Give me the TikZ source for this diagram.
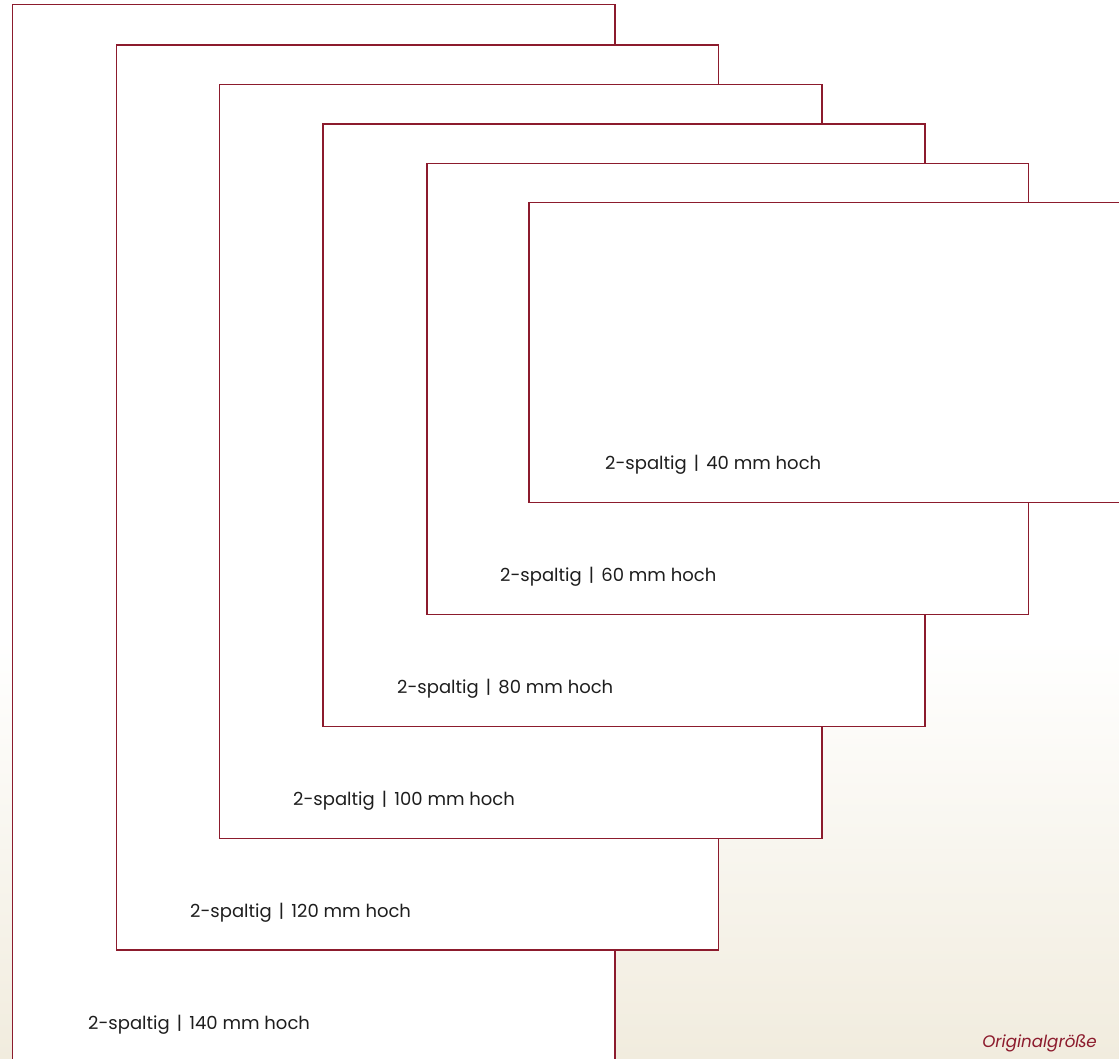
\documentclass[tikz,border=0pt]{standalone}
\usepackage{fontspec}
\setmainfont{Poppins}
\definecolor{frame}{RGB}{140,27,45}
\definecolor{beige}{RGB}{241,236,222}
\definecolor{txt}{RGB}{30,30,30}
\newcommand{\sep}{\hspace{0.4em}|\hspace{0.4em}}
\begin{document}
\begin{tikzpicture}[x=1pt,y=-1pt,
  formatbox/.style={draw=frame, line width=1.4pt, fill=white, anchor=north west, inner sep=0pt, outer sep=0pt},
  formatlabel/.style={anchor=base west, inner sep=0pt, text=txt, font=\fontsize{18}{20}\selectfont}]
\useasboundingbox (0,0) rectangle (1119,1058);
\fill[white] (0,0) rectangle (1119,640);
\shade[top color=white, bottom color=beige] (0,639) rectangle (1119,1058);
\begin{scope}
\clip (0,0) rectangle (1119,1058);
\node[formatbox, minimum width=602.3pt, minimum height=1056pt] (r140) at (12.7,4.5) {};
\node[formatbox, minimum width=602pt, minimum height=905pt] (r120) at (116.5,45) {};
\node[formatbox, minimum width=602.3pt, minimum height=754pt] (r100) at (219.7,84.5) {};
\node[formatbox, minimum width=602pt, minimum height=602.7pt] (r80) at (323,124) {};
\node[formatbox, minimum width=601.3pt, minimum height=451.2pt] (r60) at (427,163.5) {};
\node[formatbox, minimum width=602pt, minimum height=300.2pt] (r40) at (529,202.5) {};
\end{scope}
\node[formatlabel] (l140) at (88,1029) {2-spaltig\sep 140 mm hoch};
\node[formatlabel] (l120) at (190,917) {2-spaltig\sep 120 mm hoch};
\node[formatlabel] (l100) at (293,805) {2-spaltig\sep 100 mm hoch};
\node[formatlabel] (l80) at (397,693) {2-spaltig\sep 80 mm hoch};
\node[formatlabel] (l60) at (500,581) {2-spaltig\sep 60 mm hoch};
\node[formatlabel] (l40) at (605,469) {2-spaltig\sep 40 mm hoch};
\node[anchor=base east, inner sep=0pt, text=frame, font=\fontsize{16.7}{19}\selectfont\itshape] (orig) at (1097,1047.5) {Originalgröße};
\end{tikzpicture}
\end{document}
